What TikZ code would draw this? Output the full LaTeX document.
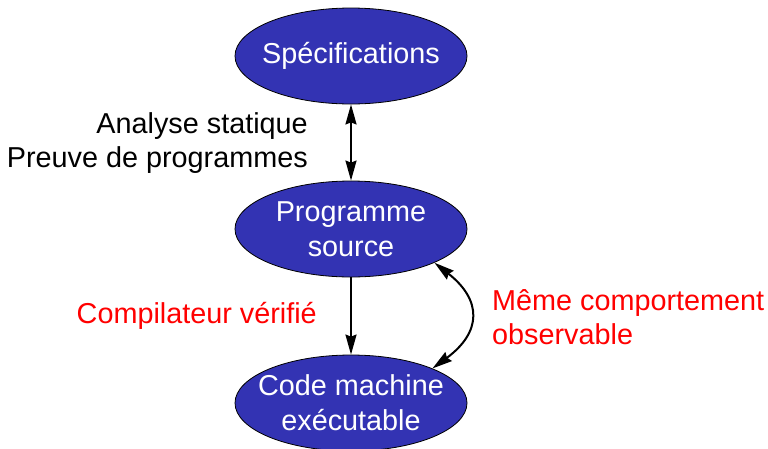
\documentclass[tikz,border=0pt]{standalone}
\usepackage{fontspec}
\setmainfont{Liberation Sans}
\usetikzlibrary{shapes.geometric,arrows.meta}
\definecolor{nodeblue}{RGB}{51,51,179}
% zero-width line, so the ellipse keeps its fixed size
\newcommand{\zline}[1]{\makebox[0pt]{#1}}
\begin{document}
\begin{tikzpicture}[x=1pt,y=-1pt,
  stage/.style={ellipse,draw=black,line width=0.8pt,fill=nodeblue,text=white,
    minimum width=232pt,minimum height=96pt,inner sep=0pt,align=center,
    font=\fontsize{28.8}{35}\selectfont},
  note/.style={inner sep=0pt,font=\fontsize{28.8}{34}\selectfont},
  link/.style={line width=2pt,>={Stealth[length=20pt,width=11pt,inset=2pt]}}
]
\useasboundingbox (0,0) rectangle (768,448);

% the three stages of the chain
\node[stage] (spec) at (351,56) {\zline{Spécifications}};
\node[stage] (src) at (351,229) {\zline{Programme}\\\zline{source}};
\node[stage] (exe) at (351,403) {\zline{Code machine}\\\zline{exécutable}};

% connectors
\draw[link,<->] (spec) -- (src);
\draw[link,->] (src) -- (exe);
\draw[link,<->] (src.-22) .. controls (482,300) and (482,332) .. (exe.23);

% annotations
\node[note,anchor=east,align=right] (verif) at (308,143.5) {Analyse statique\\Preuve de programmes};
\node[note,text=red,anchor=base east] (comp) at (317,323) {Compilateur vérifié};
\node[note,text=red,anchor=west,align=left] (same) at (492,317) {Même comportement\\observable};
\end{tikzpicture}
\end{document}
